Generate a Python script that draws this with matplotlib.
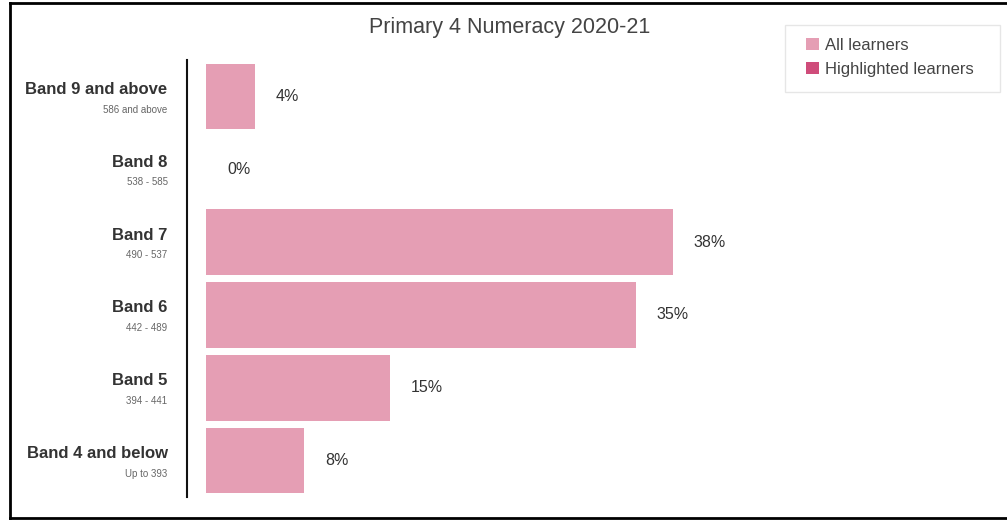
import matplotlib
matplotlib.use("Agg")
import matplotlib.pyplot as plt
from matplotlib.lines import Line2D
from matplotlib.patches import Patch, Rectangle

plt.rcParams['font.family'] = ['Liberation Sans', 'DejaVu Sans']

title = 'Primary 4 Numeracy 2020-21'
bands = ['Band 9 and above', 'Band 8', 'Band 7', 'Band 6', 'Band 5', 'Band 4 and below']
score_ranges = ['586 and above', '538 - 585', '490 - 537', '442 - 489', '394 - 441', 'Up to 393']
all_learners = [4, 0, 38, 35, 15, 8]
legend_labels = ['All learners', 'Highlighted learners']

pink = '#e59eb4'
dark_pink = '#cf4c7a'
text_col = '#333333'

fig = plt.figure(figsize=(10.07, 5.2), dpi=100)
W, H = 1007, 520

# axes placed in pixel terms: axis line at x=187, rows from y=60 to y=497
ax = fig.add_axes([187 / W, 1 - 497 / H, (980 - 187) / W, 437 / H])

ypos = list(range(len(bands)))
ax.barh(ypos, all_learners, height=0.9, color=pink, edgecolor='none', left=0)
ax.set_ylim(len(bands) - 0.5, -0.5)
ax.set_xlim(-1.55, 63.0)

for y, v in zip(ypos, all_learners):
    ax.annotate(f'{v}%', xy=(v, y), xytext=(15, 0), textcoords='offset points',
                ha='left', va='center', fontsize=11.5, color=text_col)

# two-line category labels left of the axis
ytrans = ax.get_yaxis_transform()
for y, band, rng in zip(ypos, bands, score_ranges):
    ax.annotate(band, xy=(0, y), xycoords=ytrans, xytext=(-14, 5),
                textcoords='offset points', ha='right', va='center',
                fontsize=12, fontweight='bold', color=text_col)
    ax.annotate(rng, xy=(0, y), xycoords=ytrans, xytext=(-14, -9.5),
                textcoords='offset points', ha='right', va='center',
                fontsize=7, color='#666666')

ax.set_xticks([])
ax.set_yticks([])
for s in ['top', 'right', 'bottom']:
    ax.spines[s].set_visible(False)
ax.spines['left'].set_linewidth(1.5)
ax.spines['left'].set_color('#111111')

fig.text(510 / W, 1 - 28 / H, title, ha='center', va='center', fontsize=15.5, color='#444444')

# legend: frame drawn separately so it can be wider than its contents
fig.add_artist(Rectangle((785 / W, 1 - 92 / H), 215 / W, 67 / H, transform=fig.transFigure,
                         facecolor='white', edgecolor='#e6e6e6', lw=1))
handles = [Patch(facecolor=pink, edgecolor='none'), Patch(facecolor=dark_pink, edgecolor='none')]
fig.legend(handles, legend_labels, loc='upper left',
           bbox_to_anchor=(806 / W, 1 - 38 / H), fontsize=12,
           handlelength=0.75, handleheight=0.75, handletextpad=0.4,
           labelspacing=0.55, borderpad=0, borderaxespad=0,
           frameon=False, labelcolor='#444444')

# outer frame on left, top and bottom
fig.add_artist(Line2D([10 / W, 10 / W], [1 - 3 / H, 1 - 518 / H], transform=fig.transFigure, color='black', lw=2))
fig.add_artist(Line2D([10 / W, 1], [1 - 3 / H, 1 - 3 / H], transform=fig.transFigure, color='black', lw=2))
fig.add_artist(Line2D([10 / W, 1], [1 - 518 / H, 1 - 518 / H], transform=fig.transFigure, color='black', lw=2))

fig.savefig('out.png', dpi=100)
